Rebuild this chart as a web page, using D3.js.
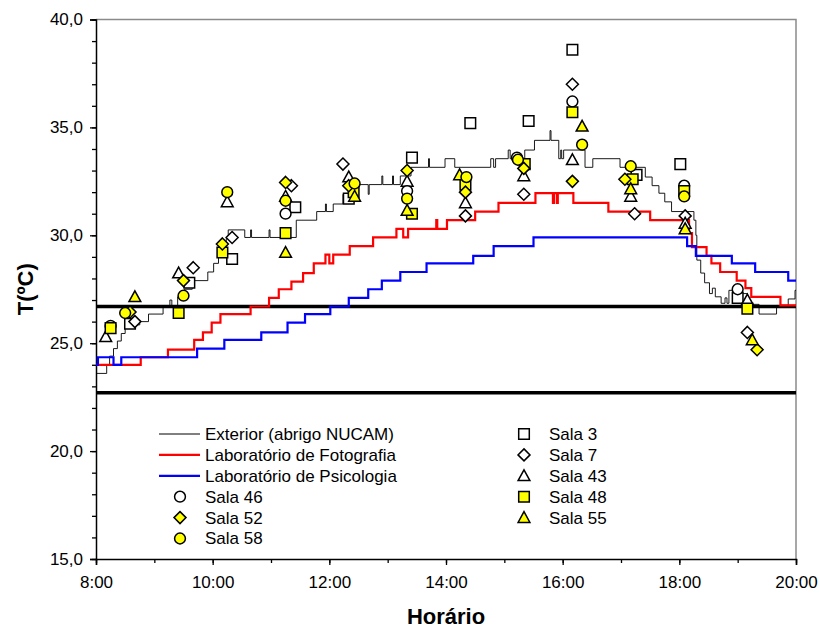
<!DOCTYPE html>
<html>
<head>
<meta charset="utf-8">
<script src="https://cdn.jsdelivr.net/npm/d3@7"></script>
<style>
  body { margin: 0; background: #fff; }
  svg { font-family: Arial, "Liberation Sans", sans-serif; }
</style>
</head>
<body>
<div id="chart"></div>
<script>
// Temperature readings, time as "H:MM"
var exterior = [
    ["8:00", 23.6], ["8:11", 24.0], ["8:14", 24.4], ["8:18", 24.75], ["8:22", 25.1], ["8:26", 25.45],
    ["8:30", 25.7], ["8:34", 25.85], ["8:45", 26.0], ["8:54", 26.35], ["9:09", 26.7], ["9:16", 27.0],
    ["9:18", 26.7], ["9:24", 27.15], ["9:31", 27.5], ["9:39", 27.9], ["9:55", 28.3], ["10:01", 28.7],
    ["10:06", 29.05], ["10:11", 29.45], ["10:14", 29.85], ["10:16", 30.25], ["10:33", 29.9], ["10:39", 30.25],
    ["10:40", 29.9], ["10:58", 30.25], ["10:59", 29.9], ["11:26", 30.7], ["11:47", 31.1], ["11:56", 31.45],
    ["11:57", 31.1], ["12:04", 31.45], ["12:14", 31.9], ["12:21", 32.35], ["12:40", 31.9], ["12:41", 32.35],
    ["12:54", 32.75], ["12:55", 32.35], ["13:05", 32.75], ["13:06", 32.35], ["13:13", 32.75], ["13:24", 33.15],
    ["13:42", 33.55], ["13:43", 33.15], ["13:59", 33.55], ["14:09", 33.15], ["14:46", 33.55], ["14:49", 33.15],
    ["14:51", 33.55], ["15:04", 33.95], ["15:06", 33.55], ["15:21", 33.95], ["15:31", 34.4], ["15:47", 34.85],
    ["15:48", 34.4], ["15:56", 33.55], ["15:58", 33.95], ["15:59", 33.55], ["16:01", 33.95], ["16:23", 33.15],
    ["16:31", 33.55], ["16:59", 33.15], ["17:25", 32.7], ["17:32", 32.3], ["17:39", 31.95], ["17:45", 31.55],
    ["17:52", 31.1], ["18:15", 30.7], ["18:17", 30.0], ["18:18", 28.85], ["18:22", 28.25], ["18:26", 27.8],
    ["18:31", 27.3], ["18:34", 27.55], ["18:37", 27.15], ["18:43", 26.85], ["18:47", 27.1], ["18:49", 26.85],
    ["18:51", 27.45], ["19:00", 27.3], ["19:10", 26.8], ["19:22", 26.35], ["19:40", 26.75], ["19:52", 27.05],
    ["19:59", 27.45], ["20:00", 27.45]
];
var fotografia = [
    ["8:00", 24.0], ["8:46", 24.35], ["9:14", 24.7], ["9:41", 25.15], ["9:50", 25.5], ["9:59", 25.95],
    ["10:08", 26.35], ["10:39", 26.7], ["10:58", 27.1], ["11:08", 27.5], ["11:21", 27.85], ["11:33", 28.25],
    ["11:44", 28.7], ["11:56", 29.1], ["12:00", 28.7], ["12:04", 29.1], ["12:21", 29.5], ["12:45", 29.9],
    ["13:09", 30.3], ["13:16", 29.9], ["13:21", 30.3], ["13:50", 30.7], ["13:51", 30.3], ["14:01", 30.7],
    ["14:30", 31.1], ["14:54", 31.5], ["15:32", 31.95], ["15:50", 31.5], ["15:51", 31.95], ["15:54", 31.5],
    ["15:55", 31.95], ["16:11", 31.5], ["16:47", 31.1], ["17:30", 30.7], ["18:10", 30.1], ["18:13", 29.45],
    ["18:28", 29.05], ["18:33", 28.7], ["18:42", 28.3], ["18:59", 27.9], ["19:08", 27.55], ["19:14", 27.15],
    ["19:44", 26.75], ["20:00", 26.75]
];
var psicologia = [
    ["8:00", 24.0], ["8:02", 24.35], ["8:18", 24.0], ["8:26", 24.35], ["9:44", 24.75], ["10:12", 25.15],
    ["10:50", 25.5], ["11:17", 25.95], ["11:35", 26.35], ["12:01", 26.7], ["12:20", 27.1], ["12:40", 27.5],
    ["12:54", 27.9], ["13:13", 28.3], ["13:40", 28.7], ["14:28", 29.05], ["14:49", 29.5], ["15:30", 29.9],
    ["18:08", 29.5], ["18:17", 29.05], ["18:54", 28.7], ["19:18", 28.3], ["19:52", 27.9], ["20:00", 27.9]
];

var sala3 = [["8:35", 25.9], ["9:36", 27.8], ["10:20", 28.9], ["11:25", 31.3], ["12:20", 31.7], ["13:25", 33.6],
    ["14:25", 35.2], ["15:25", 35.3], ["16:10", 38.6], ["17:16", 32.8], ["18:01", 33.3], ["19:00", 27.1]];
var sala7 = [["8:40", 26.0], ["9:40", 28.5], ["10:20", 29.9], ["11:21", 32.3], ["12:14", 33.3], ["14:20", 30.9],
    ["15:20", 31.9], ["16:10", 37.0], ["17:14", 31.0], ["18:06", 30.9], ["19:10", 25.5]];
var sala43 = [["8:10", 25.3], ["9:25", 28.25], ["10:15", 31.55], ["11:15", 31.8], ["12:20", 32.7], ["13:20", 32.5],
    ["14:20", 31.5], ["15:20", 32.75], ["16:10", 33.5], ["17:10", 31.8], ["18:06", 30.55], ["19:10", 27.0]];
var sala46 = [["8:15", 25.8], ["11:15", 31.0], ["13:20", 32.05], ["15:13", 33.6], ["16:10", 36.2], ["18:05", 32.3],
    ["19:00", 27.5]];
var sala48 = [["8:15", 25.7], ["9:25", 26.4], ["10:10", 29.2], ["11:15", 30.1], ["12:25", 32.0], ["13:25", 31.0],
    ["14:20", 32.35], ["15:21", 33.3], ["16:10", 35.7], ["17:12", 32.6], ["18:05", 32.05], ["19:10", 26.6]];
var sala52 = [["8:35", 26.45], ["9:30", 27.9], ["10:10", 29.6], ["11:15", 32.45], ["12:20", 32.3], ["13:20", 33.0],
    ["14:20", 32.0], ["15:20", 33.1], ["16:10", 32.5], ["17:04", 32.6], ["19:20", 24.7]];
var sala55 = [["8:40", 27.15], ["11:15", 29.2], ["12:26", 31.8], ["13:20", 31.15], ["14:14", 32.8], ["16:20", 35.05],
    ["17:10", 32.15], ["18:06", 30.3], ["19:15", 25.15]];
var sala58 = [["8:30", 26.4], ["9:30", 27.2], ["10:15", 32.0], ["11:15", 31.6], ["12:26", 32.4], ["13:20", 31.7],
    ["14:21", 32.7], ["15:14", 33.5], ["16:20", 34.2], ["17:10", 33.2], ["18:05", 31.8]];

// comfort band limits
var comfortLimits = [22.7, 26.7];
var yTicks = [15, 20, 25, 30, 35, 40];

var width = 820, height = 630,
    margin = { top: 19.5, right: 24, bottom: 71, left: 96 },
    plotW = width - margin.left - margin.right,
    plotH = height - margin.top - margin.bottom;

var parseTime = d3.timeParse("%H:%M");
var yFormat = d3.formatLocale({ decimal: ",", thousands: ".", grouping: [3], currency: ["", ""] }).format(".1f");

var x = d3.scaleTime()
    .domain([parseTime("8:00"), parseTime("20:00")])
    .range([0, plotW]);
var y = d3.scaleLinear()
    .domain([15, 40])
    .range([plotH, 0]);

var svg = d3.select("#chart").append("svg")
    .attr("width", width)
    .attr("height", height);

var g = svg.append("g")
    .attr("transform", "translate(" + margin.left + "," + margin.top + ")");

// frame (top/right grey)
g.append("path")
    .attr("d", "M0,0H" + plotW + "V" + plotH)
    .attr("fill", "none")
    .attr("stroke", "#8a8a8a")
    .attr("stroke-width", 1.5);

// minor ticks
g.append("g")
    .call(d3.axisLeft(y).tickValues(d3.range(15, 41, 1)).tickSize(4).tickFormat(""))
    .call(function (s) { s.select(".domain").remove(); });
g.append("g")
    .attr("transform", "translate(0," + plotH + ")")
    .call(d3.axisBottom(x).ticks(d3.timeHour.every(1)).tickSize(4).tickFormat(""))
    .call(function (s) { s.select(".domain").remove(); });

var yAxis = g.append("g")
    .call(d3.axisLeft(y).tickValues(yTicks).tickSize(6).tickPadding(7).tickFormat(yFormat));
var xAxis = g.append("g")
    .attr("transform", "translate(0," + plotH + ")")
    .call(d3.axisBottom(x).ticks(d3.timeHour.every(2)).tickSize(6).tickPadding(11).tickFormat(d3.timeFormat("%-H:%M")));

g.selectAll(".tick line").attr("stroke", "#000").attr("stroke-width", 1.3);
g.selectAll(".domain").attr("stroke", "#000").attr("stroke-width", 1.5);
g.selectAll(".tick text")
    .attr("fill", "#000")
    .style("font-size", "17px");

// comfort limits
g.selectAll(".limit")
    .data(comfortLimits)
    .enter().append("line")
    .attr("class", "limit")
    .attr("x1", 0)
    .attr("x2", plotW)
    .attr("y1", function (d) { return y(d); })
    .attr("y2", function (d) { return y(d); })
    .attr("stroke", "#000")
    .attr("stroke-width", 3.5);

var line = d3.line()
    .curve(d3.curveStepAfter)
    .x(function (d) { return x(parseTime(d[0])); })
    .y(function (d) { return y(d[1]); });

var lineSeries = [
    { name: "Exterior (abrigo NUCAM)", data: exterior, color: "#000", width: 0.9 },
    { name: "Laboratório de Fotografia", data: fotografia, color: "#ff0000", width: 2.2 },
    { name: "Laboratório de Psicologia", data: psicologia, color: "#0000ff", width: 2.2 }
];

g.selectAll(".series")
    .data(lineSeries)
    .enter().append("path")
    .attr("class", "series")
    .attr("d", function (d) { return line(d.data); })
    .attr("fill", "none")
    .attr("stroke", function (d) { return d.color; })
    .attr("stroke-width", function (d) { return d.width; });

function markerPath(shape) {
    if (shape === "circle") return d3.symbol(d3.symbolCircle, Math.PI * 5.4 * 5.4)();
    if (shape === "square") return "M-5.3,-5.3h10.6v10.6h-10.6Z";
    if (shape === "diamond") return "M0,-6L6,0L0,6L-6,0Z";
    return "M0,-6L5.9,4.8L-5.9,4.8Z";
}

var markerSeries = [
    { name: "Sala 3", data: sala3, shape: "square", fill: "#fff" },
    { name: "Sala 7", data: sala7, shape: "diamond", fill: "#fff" },
    { name: "Sala 43", data: sala43, shape: "triangle", fill: "#fff" },
    { name: "Sala 46", data: sala46, shape: "circle", fill: "#fff" },
    { name: "Sala 48", data: sala48, shape: "square", fill: "#ffff00" },
    { name: "Sala 52", data: sala52, shape: "diamond", fill: "#ffff00" },
    { name: "Sala 55", data: sala55, shape: "triangle", fill: "#ffff00" },
    { name: "Sala 58", data: sala58, shape: "circle", fill: "#ffff00" }
];

markerSeries.forEach(function (s) {
    g.append("g")
        .selectAll("path")
        .data(s.data)
        .enter().append("path")
        .attr("transform", function (d) { return "translate(" + x(parseTime(d[0])) + "," + y(d[1]) + ")"; })
        .attr("d", markerPath(s.shape))
        .attr("fill", s.fill)
        .attr("stroke", "#000")
        .attr("stroke-width", 1.5);
});

// axis titles
svg.append("text")
    .attr("x", margin.left + plotW / 2)
    .attr("y", 624)
    .attr("text-anchor", "middle")
    .style("font-size", "22px")
    .style("font-weight", "bold")
    .text("Horário");
svg.append("text")
    .attr("transform", "translate(33," + (margin.top + plotH / 2) + ") rotate(-90)")
    .attr("text-anchor", "middle")
    .style("font-size", "22px")
    .style("font-weight", "bold")
    .text("T(ºC)");

// legend
var legendLeft = [lineSeries[0], lineSeries[1], lineSeries[2], markerSeries[3], markerSeries[5], markerSeries[7]];
var legendRight = [markerSeries[0], markerSeries[1], markerSeries[2], markerSeries[4], markerSeries[6]];
var rowY = function (i) { return 434 + i * 20.9; };

function drawLegend(items, symX, textX) {
    var item = svg.append("g").selectAll("g")
        .data(items)
        .enter().append("g")
        .attr("transform", function (d, i) { return "translate(0," + rowY(i) + ")"; });
    item.filter(function (d) { return d.color; })
        .append("line")
        .attr("x1", symX - 21).attr("x2", symX + 20)
        .attr("stroke", function (d) { return d.color; })
        .attr("stroke-width", function (d) { return d.width === 0.9 ? 1 : 2.2; });
    item.filter(function (d) { return d.shape; })
        .append("path")
        .attr("transform", "translate(" + symX + ",0)")
        .attr("d", function (d) { return markerPath(d.shape); })
        .attr("fill", function (d) { return d.fill; })
        .attr("stroke", "#000")
        .attr("stroke-width", 1.5);
    item.append("text")
        .attr("x", textX)
        .attr("dy", "0.35em")
        .style("font-size", "17px")
        .text(function (d) { return d.name; });
}
drawLegend(legendLeft, 180, 205);
drawLegend(legendRight, 524, 549);
</script>
</body>
</html>
